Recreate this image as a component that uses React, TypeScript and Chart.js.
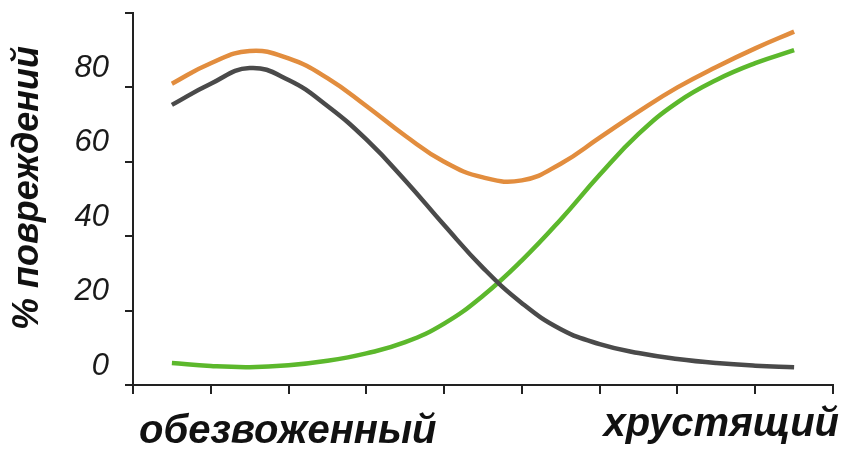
import React, { useEffect, useRef } from "react";
import { Chart, registerables } from "chart.js";

Chart.register(...registerables);

const xPositions = [0.5, 1, 1.5, 2, 2.5, 3, 3.5, 4, 4.5, 5, 5.5, 6, 6.5, 7, 7.5, 8, 8.5];
const orangeValues = [81, 86.5, 89.8, 87.8, 82.5, 75, 67, 60, 55.8, 55, 59.5, 66.5, 73.5, 80, 85.5, 90.5, 95];
const grayValues = [75.3, 81, 85.2, 82, 75, 66, 55, 43, 31.5, 22, 15, 11, 8.6, 7, 5.9, 5.2, 4.8];
const greenValues = [5.9, 5.1, 4.8, 5.3, 6.5, 8.5, 11.5, 16.5, 24, 33.5, 44.5, 56.5, 67.5, 76, 82, 86.5, 90];
const yTicks = [0, 20, 40, 60, 80, 100];
const yTitle = "% повреждений";
const leftLabel = "обезвоженный";
const rightLabel = "хрустящий";

const toPoints = (vals: number[]) => vals.map((v, i) => ({ x: xPositions[i], y: v }));

const FONT = "'Liberation Sans', Arial, sans-serif";

const textPlugin = {
  id: "textPlugin",
  afterDraw(chart: any) {
    const { ctx, chartArea } = chart;
    ctx.save();
    ctx.fillStyle = "#111";
    ctx.font = `bold italic 40px ${FONT}`;
    ctx.textBaseline = "alphabetic";
    ctx.textAlign = "left";
    ctx.fillText(leftLabel, chartArea.left + 6, chartArea.bottom + 58);
    ctx.textAlign = "right";
    ctx.fillText(rightLabel, chartArea.right + 6, chartArea.bottom + 51);
    // y-axis title
    ctx.translate(28, (chartArea.top + chartArea.bottom) / 2 - 11);
    ctx.rotate(-Math.PI / 2);
    ctx.textAlign = "center";
    ctx.textBaseline = "middle";
    ctx.font = `bold italic 36px ${FONT}`;
    ctx.fillText(yTitle, 0, 0);
    ctx.restore();
  },
};

export default function App() {
  const ref = useRef<HTMLCanvasElement>(null);
  useEffect(() => {
    if (!ref.current) return;
    const line = (data: number[], color: string) => ({
      data: toPoints(data),
      borderColor: color,
      backgroundColor: color,
      borderWidth: 4.5,
      pointRadius: 0,
      tension: 0.45,
      fill: false,
    });
    const chart = new Chart(ref.current, {
      type: "line",
      data: {
        datasets: [
          line(orangeValues, "#E28D3E"),
          line(grayValues, "#4A4A4A"),
          line(greenValues, "#5CB82C"),
        ],
      },
      options: {
        animation: false,
        responsive: false,
        maintainAspectRatio: false,
        layout: { padding: { top: 13, right: 10, left: 0, bottom: 0 } },
        plugins: { legend: { display: false }, tooltip: { enabled: false } },
        scales: {
          x: {
            type: "linear",
            min: 0,
            max: 9,
            border: { color: "#222", width: 2 },
            grid: { drawOnChartArea: false, drawTicks: true, tickLength: 9, color: "#222", lineWidth: 2 },
            ticks: { stepSize: 1, callback: () => "" },
            afterFit: (s: any) => {
              s.height = 65;
              s.paddingLeft = 0;
              s.paddingRight = 0;
            },
          },
          y: {
            type: "linear",
            min: 0,
            max: 100,
            afterBuildTicks: (s: any) => {
              s.ticks = yTicks.map((v) => ({ value: v }));
            },
            border: { color: "#222", width: 2 },
            grid: { drawOnChartArea: false, drawTicks: true, tickLength: 8, color: "#222", lineWidth: 2 },
            ticks: {
              color: "#1a1a1a",
              font: { family: FONT, size: 31, style: "italic" },
              padding: 16,
              labelOffset: -19,
              callback: (v: any) => (v === 100 ? "" : String(v)),
            },
            afterFit: (s: any) => {
              s.width = 133;
              s.paddingTop = 0;
              s.paddingBottom = 0;
            },
          },
        },
      },
      plugins: [textPlugin],
    });
    return () => chart.destroy();
  }, []);
  return (
    <div style={{ position: "absolute", left: 0, top: 0, width: 843, height: 450, background: "#fff" }}>
      <canvas ref={ref} width={843} height={450} style={{ width: 843, height: 450 }} />
    </div>
  );
}
